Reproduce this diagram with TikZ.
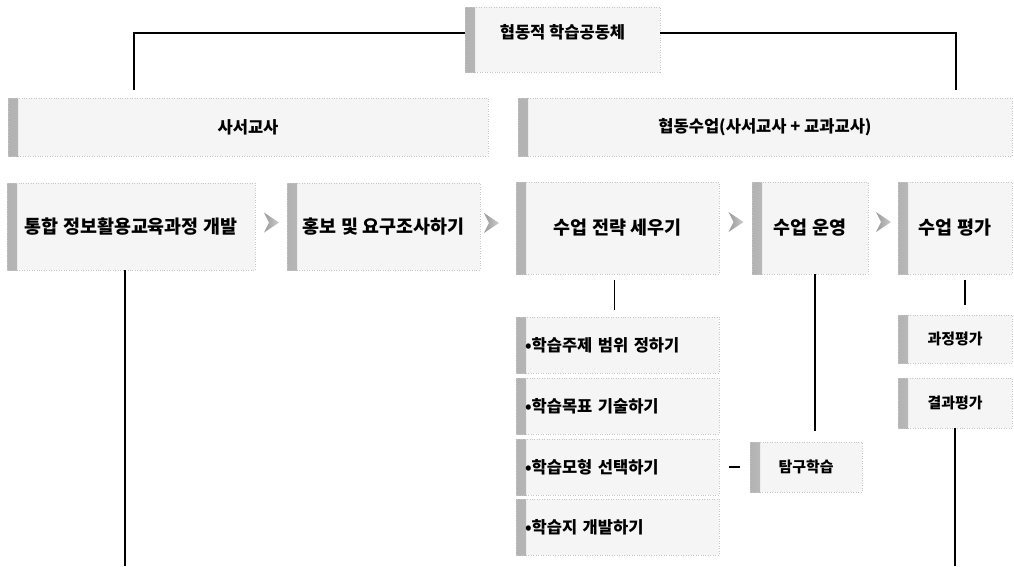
\documentclass[tikz,border=0pt]{standalone}
\usepackage{fontspec}
\newfontfamily\kr{Noto Sans CJK KR}
\usetikzlibrary{calc}
\begin{document}
\begin{tikzpicture}[x=0.02cm,y=-0.02cm,
  bx/.style={fill=gray!8, draw=gray!45, densely dotted, line width=0.4pt, inner sep=0pt, align=center,
    font=\kr\bfseries\fontsize{9.4}{11}\selectfont,
    path picture={\shade[left color=gray!60, right color=gray!8] (path picture bounding box.south west) rectangle ([xshift=0.2cm]path picture bounding box.north west);}},
  bigtxt/.style={font=\kr\bfseries\fontsize{10.5}{12}\selectfont},
  smtxt/.style={font=\kr\bfseries\fontsize{8.5}{10}\selectfont},
  subbx/.style={bx, minimum width=4.06cm, minimum height=1.12cm, text width=3.7cm, inner xsep=0.18cm, align=left},
  conn/.style={line width=1.1pt, black},
  thinconn/.style={line width=0.8pt, black},
  arrowfill/.style={left color=gray!80, right color=gray!40}
]
\useasboundingbox (0,0) rectangle (1014,566);

% top level
\node[bx, minimum width=3.9cm, text height=0.63cm, text depth=0.67cm] (T) at (562.5,39.5) {협동적 학습공동체};
\node[bx, minimum width=9.6cm, minimum height=1.16cm] (S) at (248,127) {사서교사};
\node[bx, minimum width=9.88cm, minimum height=1.16cm] (C) at (765,127) {협동수업(사서교사 + 교과교사)};

% row 2
\node[bx, bigtxt, minimum width=4.96cm, minimum height=1.74cm] (R1) at (131,226.5) {통합 정보활용교육과정 개발};
\node[bx, bigtxt, minimum width=3.86cm, minimum height=1.74cm] (R2) at (383.5,226.5) {홍보 및 요구조사하기};
\node[bx, bigtxt, minimum width=4.06cm, minimum height=1.84cm] (R3) at (617.5,228) {수업 전략 세우기};
\node[bx, bigtxt, minimum width=2.32cm, minimum height=1.84cm] (R4) at (810,228) {수업 운영};
\node[bx, bigtxt, minimum width=2.28cm, minimum height=1.84cm] (R5) at (955,228) {수업 평가};

% sub boxes
\node[subbx] (A1) at (617.5,345) {•학습주제 범위 정하기};
\node[subbx] (A2) at (617.5,406) {•학습목표 기술하기};
\node[subbx] (A3) at (617.5,467) {•학습모형 선택하기};
\node[subbx] (A4) at (617.5,527) {•학습지 개발하기};
\node[bx, smtxt, minimum width=2.24cm, minimum height=1.0cm] (K) at (806,467) {탐구학습};
\node[bx, smtxt, minimum width=2.28cm, minimum height=0.96cm] (P1) at (955,339) {과정평가};
\node[bx, smtxt, minimum width=2.28cm, minimum height=1.0cm] (P2) at (955,403) {결과평가};

% step arrows
\coordinate (a1) at ($(R1.east)!0.5!(R2.west)+(0,-4)$);
\coordinate (a2) at ($(R2.east)!0.3!(R3.west)+(0,-4)$);
\coordinate (a3) at ($(R3.east)!0.5!(R4.west)+(0,-6)$);
\coordinate (a4) at ($(R4.east)!0.5!(R5.west)+(0,-6)$);
\foreach \a in {a1,a2,a3,a4}{
  \shade[arrowfill, shift={(\a)}] (-7,-10) -- (8,0) -- (-7,10) -- (-2,0) -- cycle;
}

% connectors
\coordinate (c1) at ([xshift=2.52cm,yshift=0.16cm]S.north west);
\coordinate (c2) at ([xshift=-1.12cm,yshift=0.16cm]C.north east);
\draw[conn] ([yshift=0.13cm]T.west) -| (c1);
\draw[conn] ([yshift=0.13cm]T.east) -| (c2);

\coordinate (e1) at (125,566);
\draw[conn] (R1.south -| e1) -- (e1);

\draw[thinconn] ([xshift=-0.06cm,yshift=-0.12cm]R3.south) -- ([xshift=-0.06cm,yshift=0.14cm]A1.north);

\coordinate (k1) at ([xshift=0.18cm,yshift=0.22cm]K.north);
\draw[conn] (R4.south -| k1) -- (k1);

\draw[thinconn] ([xshift=0.2cm,yshift=-0.12cm]R5.south) -- ([xshift=0.2cm,yshift=0.2cm]P1.north);

\coordinate (e2) at (955,566);
\draw[conn] (P2.south) -- (e2);

\draw[conn] ([xshift=0.2cm]A3.east) -- ([xshift=-0.2cm]K.west);
\end{tikzpicture}
\end{document}
